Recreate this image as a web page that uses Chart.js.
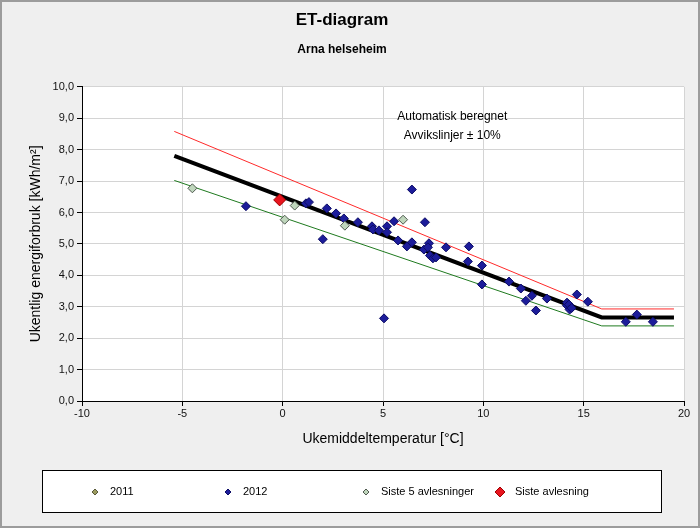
<!DOCTYPE html>
<html lang="no">
<head>
<meta charset="utf-8">
<title>ET-diagram</title>
<script src="https://cdn.jsdelivr.net/npm/chart.js@4.4.1/dist/chart.umd.min.js"></script>
<style>
  html, body { margin: 0; padding: 0; background: #efefef; }
</style>
</head>
<body>
<canvas id="etChart" width="700" height="528"></canvas>
<script>
// Ukemiddeltemperatur [°C] og ukentlig energiforbruk [kWh/m²]
const temp2011 = [];
const energi2011 = [];

const temp2012 = [-1.83, 1.16, 1.31, 2.2, 2.0, 2.66, 3.05, 3.75, 4.45, 4.5, 4.8, 5.2, 5.2, 5.55, 5.75,
  6.44, 6.19, 6.44, 7.09, 7.04, 7.29, 7.24, 7.34, 7.49, 7.64, 8.14, 5.05, 9.28, 9.23, 9.93, 9.93,
  11.28, 11.87, 12.12, 12.42, 12.62, 13.17, 14.17, 14.66, 15.21, 14.17, 14.27, 14.3, 14.4,
  17.1, 17.65, 18.45];
const energi2012 = [6.2, 6.29, 6.33, 6.13, 5.15, 5.97, 5.81, 5.69, 5.56, 5.46, 5.43, 5.56, 5.37, 5.72, 5.11,
  6.73, 4.92, 5.05, 5.69, 4.82, 5.02, 4.89, 4.63, 4.54, 4.57, 4.89, 2.63, 4.92, 4.44, 4.31, 3.71,
  3.8, 3.58, 3.19, 3.35, 2.88, 3.26, 3.04, 3.39, 3.16, 3.13, 3.07, 2.91, 2.96,
  2.52, 2.75, 2.52];

const tempSiste5 = [-4.5, 0.1, 0.6, 3.1, 6.0];
const energiSiste5 = [6.77, 5.77, 6.22, 5.58, 5.77];

const tempSiste = [-0.15];
const energiSiste = [6.4];

// ET-linje og avvikslinjer ± 10%
const linjeTemp = [-5.4, 15.9, 19.5];
const linjeEnergi = [7.8, 2.66, 2.66];
const linjeOver = [8.58, 2.93, 2.93];
const linjeUnder = [7.02, 2.39, 2.39];

// Akser
const xTicks = [-10, -5, 0, 5, 10, 15, 20];
const yTicks = [0, 1, 2, 3, 4, 5, 6, 7, 8, 9, 10];

// Rekkefølge i forklaringen
const forklaringRekke = ['2011', '2012', 'Siste 5 avlesninger', 'Siste avlesning'];

const FONT = 'Arial, "Liberation Sans", sans-serif';

function punkter(xs, ys) {
  return xs.map((x, i) => ({ x: x, y: ys[i] }));
}

// Grå bakgrunn, ramme og hvitt plotteområde
const bakgrunn = {
  id: 'bakgrunn',
  beforeDraw(chart) {
    const { ctx, chartArea: a, width, height } = chart;
    ctx.save();
    ctx.fillStyle = '#efefef';
    ctx.fillRect(0, 0, width, height);
    ctx.strokeStyle = '#9c9c9c';
    ctx.lineWidth = 2;
    ctx.strokeRect(1, 1, width - 2, height - 2);
    ctx.fillStyle = '#ffffff';
    ctx.fillRect(a.left, a.top, a.right - a.left, a.bottom - a.top);
    ctx.restore();
  }
};

// Tekst inne i plottet
const merknad = {
  id: 'merknad',
  afterDraw(chart) {
    const { ctx, scales } = chart;
    ctx.save();
    ctx.fillStyle = '#000';
    ctx.font = '12px ' + FONT;
    ctx.textAlign = 'center';
    ctx.textBaseline = 'middle';
    const x = scales.x.getPixelForValue(8.45);
    ctx.fillText('Automatisk beregnet', x, scales.y.getPixelForValue(9.05));
    ctx.fillText('Avvikslinjer \u00b1 10%', x, scales.y.getPixelForValue(8.45));
    ctx.restore();
  }
};

function ruter(ctx, x, y, r, fyll, kant) {
  ctx.beginPath();
  ctx.moveTo(x, y - r);
  ctx.lineTo(x + r, y);
  ctx.lineTo(x, y + r);
  ctx.lineTo(x - r, y);
  ctx.closePath();
  ctx.fillStyle = fyll;
  ctx.fill();
  ctx.strokeStyle = kant;
  ctx.lineWidth = 1;
  ctx.stroke();
}

// Forklaring i egen boks under diagrammet
const forklaring = {
  id: 'forklaring',
  afterDraw(chart) {
    const ctx = chart.ctx;
    ctx.save();
    ctx.fillStyle = '#ffffff';
    ctx.fillRect(42, 470, 619, 42);
    ctx.strokeStyle = '#000';
    ctx.lineWidth = 1;
    ctx.strokeRect(42.5, 470.5, 619, 42);
    const kolonner = [95, 228, 366, 500];
    ctx.font = '11px ' + FONT;
    ctx.textBaseline = 'middle';
    forklaringRekke.forEach((navn, i) => {
      const d = chart.data.datasets.find(s => s.label === navn);
      ruter(ctx, kolonner[i], 492, d.forklaringR, d.backgroundColor, d.borderColor);
      ctx.fillStyle = '#000';
      ctx.fillText(d.label, kolonner[i] + 15, 492);
    });
    ctx.restore();
  }
};

const data = {
  datasets: [
    {
      label: 'Siste avlesning',
      data: punkter(tempSiste, energiSiste),
      pointStyle: 'rectRot', pointRadius: 6, borderWidth: 1,
      backgroundColor: '#e8141e', borderColor: '#a00000',
      forklaringR: 5, order: 0
    },
    {
      label: 'Siste 5 avlesninger',
      data: punkter(tempSiste5, energiSiste5),
      pointStyle: 'rectRot', pointRadius: 4.5, borderWidth: 1,
      backgroundColor: '#bfd6bc', borderColor: '#505a50',
      forklaringR: 3, order: 1
    },
    {
      label: '2012',
      data: punkter(temp2012, energi2012),
      pointStyle: 'rectRot', pointRadius: 4.5, borderWidth: 1,
      backgroundColor: '#1c1c9a', borderColor: '#0c0c66',
      forklaringR: 3, order: 2
    },
    {
      label: '2011',
      data: punkter(temp2011, energi2011),
      pointStyle: 'rectRot', pointRadius: 4.5, borderWidth: 1,
      backgroundColor: '#9a9a5e', borderColor: '#5a5a3a',
      forklaringR: 3, order: 3
    },
    {
      label: 'ET-linje',
      data: punkter(linjeTemp, linjeEnergi),
      showLine: true, pointRadius: 0, borderColor: '#000', borderWidth: 4, order: 5
    },
    {
      label: '+10%',
      data: punkter(linjeTemp, linjeOver),
      showLine: true, pointRadius: 0, borderColor: '#ff2a2a', borderWidth: 1, order: 6
    },
    {
      label: '-10%',
      data: punkter(linjeTemp, linjeUnder),
      showLine: true, pointRadius: 0, borderColor: '#1f7a1f', borderWidth: 1, order: 7
    }
  ]
};

const config = {
  type: 'scatter',
  data: data,
  options: {
    responsive: false,
    animation: false,
    layout: { padding: { left: 0, right: 16, top: 0, bottom: 71 } },
    plugins: {
      legend: { display: false },
      tooltip: { enabled: false },
      title: {
        display: true, text: 'ET-diagram', color: '#000',
        font: { family: FONT, size: 17, weight: 'bold' },
        padding: { top: 10, bottom: 9 }
      },
      subtitle: {
        display: true, text: 'Arna helseheim', color: '#000',
        font: { family: FONT, size: 12, weight: 'bold' },
        padding: { top: 3, bottom: 30 }
      }
    },
    scales: {
      x: {
        type: 'linear', min: -10, max: 20,
        afterBuildTicks: s => { s.ticks = xTicks.map(v => ({ value: v })); },
        afterFit: s => { s.height = 56; },
        ticks: { color: '#111', font: { family: FONT, size: 11 }, padding: 1, maxRotation: 0 },
        grid: { color: '#d4d4d4', tickColor: '#000', tickLength: 5 },
        border: { color: '#000', width: 1 },
        title: {
          display: true, text: 'Ukemiddeltemperatur [\u00b0C]', color: '#000',
          font: { family: FONT, size: 14 }, padding: { top: 0, bottom: 9 }
        }
      },
      y: {
        type: 'linear', min: 0, max: 10,
        afterBuildTicks: s => { s.ticks = yTicks.map(v => ({ value: v })); },
        afterFit: s => { s.width = 82; },
        ticks: {
          color: '#111', font: { family: FONT, size: 11 }, padding: 3,
          callback: v => v.toFixed(1).replace('.', ',')
        },
        grid: { color: '#d4d4d4', tickColor: '#000', tickLength: 5 },
        border: { color: '#000', width: 1 },
        title: {
          display: true, text: 'Ukentlig energiforbruk [kWh/m\u00b2]', color: '#000',
          font: { family: FONT, size: 14 }, padding: { top: 28, bottom: 0 }
        }
      }
    }
  },
  plugins: [bakgrunn, merknad, forklaring]
};

// Tegn diagrammet
const etChart = new Chart(document.getElementById('etChart'), config);
</script>
</body>
</html>
